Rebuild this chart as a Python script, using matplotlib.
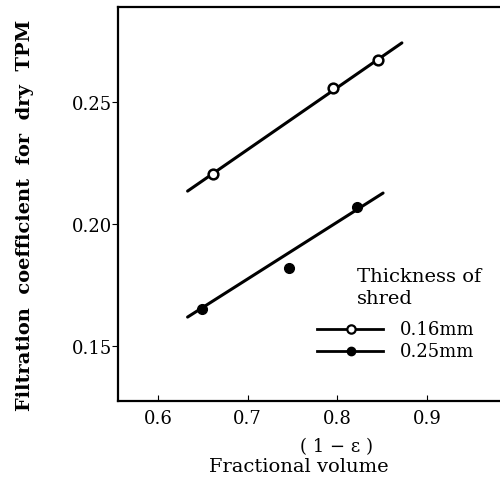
import numpy as np
import matplotlib.pyplot as plt

# data
x_016 = [0.661, 0.795, 0.845]
y_016 = [0.2205, 0.2557, 0.267]
fit_016_x = [0.633, 0.872]
fit_016_y = [0.2135, 0.2742]

x_025 = [0.649, 0.746, 0.822]
y_025 = [0.1652, 0.182, 0.207]
fit_025_x = [0.633, 0.851]
fit_025_y = [0.1619, 0.2127]

xticks = [0.6, 0.7, 0.8, 0.9]
yticks = [0.15, 0.20, 0.25]

plt.rcParams['font.family'] = ['DejaVu Serif']

fig = plt.figure(figsize=(5, 4.85), dpi=100)
ax = fig.add_axes([0.236, 0.171, 0.764, 0.813])

ax.plot(fit_016_x, fit_016_y, color='black', lw=2.2, solid_capstyle='round')
ax.plot(x_016, y_016, 'o', ms=7, mfc='white', mec='black', mew=1.8)
ax.plot(fit_025_x, fit_025_y, color='black', lw=2.2, solid_capstyle='round')
ax.plot(x_025, y_025, 'o', ms=7, mfc='black', mec='black')

ax.set_xlim(0.5554, 0.9814)
ax.set_ylim(0.1275, 0.289)
ax.set_xticks(xticks)
ax.set_xticklabels(['0.6', '0.7', '0.8', '0.9'])
ax.set_yticks(yticks)
ax.set_yticklabels(['0.15', '0.20', '0.25'])
ax.tick_params(axis='x', direction='in', length=4, labelsize=13, pad=6)
ax.tick_params(axis='y', direction='out', length=4, labelsize=13, pad=0)
ax.spines['right'].set_visible(False)
for s in ['left', 'top', 'bottom']:
    ax.spines[s].set_linewidth(1.6)

fig.text(0.05, 0.555, 'Filtration  coefficient  for  dry  TPM', fontsize=14,
         fontweight='bold', rotation=90, ha='center', va='center')
fig.text(0.672, 0.078, '( 1 − ε )', fontsize=13, ha='center', va='center')
fig.text(0.598, 0.037, 'Fractional volume', fontsize=14, ha='center', va='center')

# hand drawn legend
ax.text(0.822, 0.1826, 'Thickness of\nshred', fontsize=14, va='top', ha='left',
        linespacing=1.35)
lx = [0.777, 0.851]
ax.plot(lx, [0.157, 0.157], color='black', lw=2)
ax.plot([0.815], [0.157], 'o', ms=6, mfc='white', mec='black', mew=1.6)
ax.plot(lx, [0.148, 0.148], color='black', lw=2)
ax.plot([0.815], [0.148], 'o', ms=6, mfc='black', mec='black')
ax.text(0.870, 0.157, '0.16mm', fontsize=13, va='center')
ax.text(0.870, 0.148, '0.25mm', fontsize=13, va='center')

fig.savefig('out.png', dpi=100)
